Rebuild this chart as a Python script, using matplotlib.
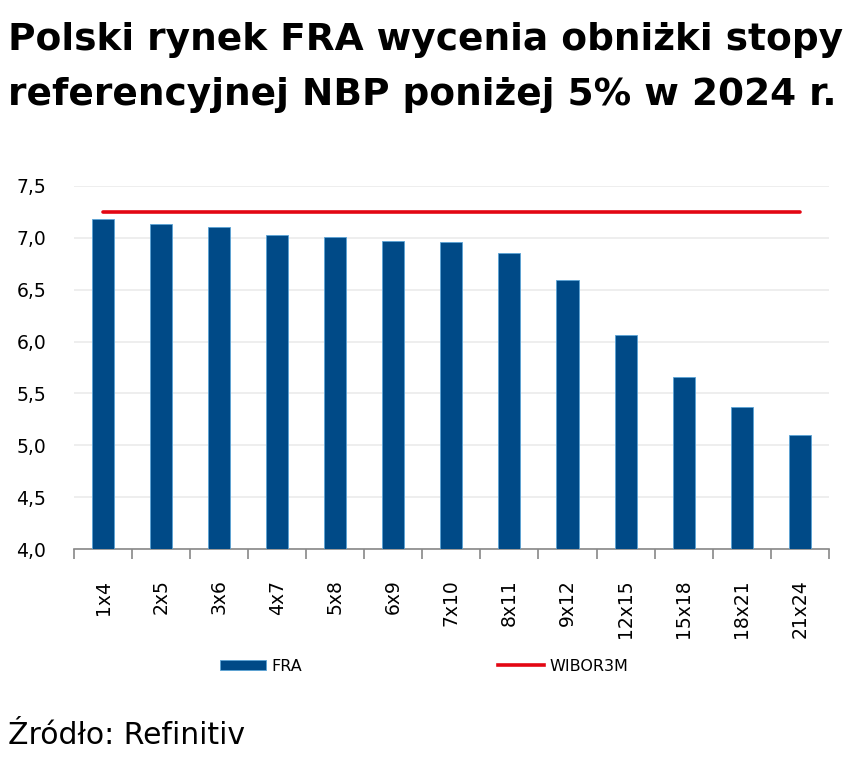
import matplotlib.pyplot as plt
from matplotlib.patches import Patch
from matplotlib.lines import Line2D

# Dane
kontrakty = ["1x4", "2x5", "3x6", "4x7", "5x8", "6x9", "7x10",
             "8x11", "9x12", "12x15", "15x18", "18x21", "21x24"]
fra = [7.18, 7.13, 7.10, 7.03, 7.01, 6.97, 6.96, 6.85, 6.59, 6.06, 5.66, 5.37, 5.10]
wibor3m = [7.25] * len(kontrakty)
y_ticks = [4.0, 4.5, 5.0, 5.5, 6.0, 6.5, 7.0, 7.5]

niebieski = "#004A87"
czerwony = "#E30613"

fig = plt.figure(figsize=(8.48, 7.58), dpi=100)
ax = fig.add_axes([0.0873, 0.2757, 0.890, 0.479])

x = range(len(kontrakty))
ax.bar(x, fra, width=0.38, color=niebieski, edgecolor="#5BA3D6", linewidth=0.6, zorder=3)
ax.plot(x, wibor3m, color=czerwony, linewidth=2.6, solid_capstyle="round", zorder=4)

ax.set_ylim(4.0, 7.5)
ax.set_xlim(-0.5, len(kontrakty) - 0.5)
ax.set_yticks(y_ticks)
ax.set_yticklabels([f"{v:.1f}".replace(".", ",") for v in y_ticks],
                   fontsize=13.5, family="DejaVu Sans")
ax.grid(axis="y", color="#EBEBEB", linewidth=1.2, zorder=0)
ax.set_axisbelow(True)

# os X z kreskami pomiedzy kategoriami
ax.set_xticks([i + 0.5 for i in range(-1, len(kontrakty))], minor=False)
ax.set_xticklabels([])
ax.set_xticks(list(x), minor=True)
ax.set_xticklabels(kontrakty, minor=True, rotation=90, fontsize=13.5, family="DejaVu Sans")
ax.tick_params(axis="x", which="major", length=7, color="#888888", width=1.2)
ax.tick_params(axis="x", which="minor", length=0, pad=22)
ax.tick_params(axis="y", length=0, pad=20)

for s in ["top", "right", "left"]:
    ax.spines[s].set_visible(False)
ax.spines["bottom"].set_color("#888888")
ax.spines["bottom"].set_linewidth(1.2)

# Tytul
fig.text(0.009, 0.947, "Polski rynek FRA wycenia obniżki stopy",
         fontsize=27, fontweight="bold", family="DejaVu Sans", va="center", ha="left")
fig.text(0.009, 0.875, "referencyjnej NBP poniżej 5% w 2024 r.",
         fontsize=27, fontweight="bold", family="DejaVu Sans", va="center", ha="left")

# Legenda
uchwyty = [Patch(facecolor=niebieski, edgecolor="#5BA3D6", linewidth=0.6),
           Line2D([0], [0], color=czerwony, linewidth=2.6)]
leg = fig.legend(uchwyty, ["FRA", "WIBOR3M"], loc="center", bbox_to_anchor=(0.5, 0.121),
                 ncol=2, frameon=False, fontsize=11.5, handlelength=2.9, handleheight=0.6,
                 handletextpad=0.3, columnspacing=12.3)

# Zrodlo
fig.text(0.009, 0.03, "Źródło: Refinitiv", fontsize=21.5, family="DejaVu Sans",
         va="center", ha="left")

plt.savefig("out.png", dpi=100)
